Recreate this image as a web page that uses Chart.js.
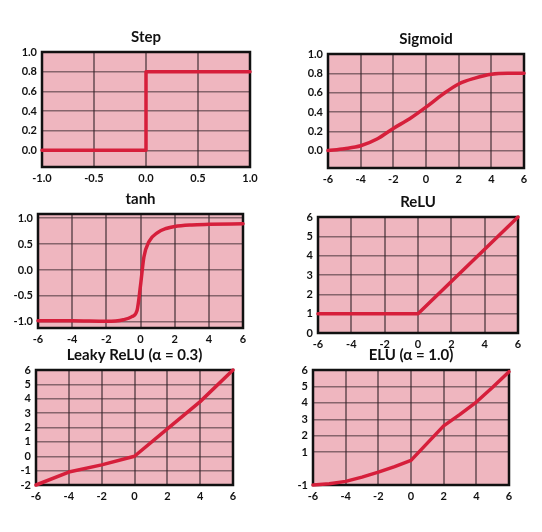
<!DOCTYPE html>
<html>
<head>
<meta charset="utf-8">
<script src="https://cdn.jsdelivr.net/npm/chart.js@4.4.1/dist/chart.umd.min.js"></script>
<style>
    html, body { margin: 0; padding: 0; background: #ffffff; }
    #wrap { position: relative; width: 542px; height: 532px; }
    #wrap canvas { position: absolute; left: 0; top: 0; }
</style>
</head>
<body>
<div id="wrap">
    <canvas id="stepChart" width="542" height="532"></canvas>
    <canvas id="sigmoidChart" width="542" height="532"></canvas>
    <canvas id="tanhChart" width="542" height="532"></canvas>
    <canvas id="reluChart" width="542" height="532"></canvas>
    <canvas id="leakyChart" width="542" height="532"></canvas>
    <canvas id="eluChart" width="542" height="532"></canvas>
</div>
<script>
// Values
const stepX = [-1, 0, 0, 1];
const stepY = [0, 0, 0.8, 0.8];
const stepXTicks = [-1, -0.5, 0, 0.5, 1];
const stepYTicks = [0, 0.2, 0.4, 0.6, 0.8, 1.0];

const sigmoidX = [-6, -5, -4, -3, -2, -1, 0, 1, 2, 3, 4, 5, 6];
const sigmoidY = [0.0, 0.02, 0.05, 0.12, 0.23, 0.33, 0.45, 0.58, 0.69, 0.75, 0.79, 0.8, 0.8];
const sigmoidXTicks = [-6, -4, -2, 0, 2, 4, 6];
const sigmoidYTicks = [0, 0.2, 0.4, 0.6, 0.8, 1.0];

const tanhX = [-6, -4, -2, -1, -0.5, -0.2, 0, 0.2, 0.5, 1, 1.5, 2, 3, 4, 6];
const tanhY = [-0.98, -0.98, -0.99, -0.96, -0.9, -0.78, -0.3, 0.25, 0.55, 0.72, 0.8, 0.84, 0.87, 0.88, 0.89];
const tanhXTicks = [-6, -4, -2, 0, 2, 4, 6];
const tanhYTicks = [-1, -0.5, 0, 0.5, 1];

const reluX = [-6, 0, 6];
const reluY = [1, 1, 6];
const reluXTicks = [-6, -4, -2, 0, 2, 4, 6];
const reluYTicks = [0, 1, 2, 3, 4, 5, 6];

const leakyX = [-6, -4, -2, 0, 2, 4, 6];
const leakyY = [-2, -1.1, -0.6, 0, 1.9, 3.8, 6];
const leakyXTicks = [-6, -4, -2, 0, 2, 4, 6];
const leakyYTicks = [-2, -1, 0, 1, 2, 3, 4, 5, 6];

const eluX = [-6, -5, -4, -3, -2, -1, 0, 1, 2, 3, 4, 5, 6];
const eluY = [-1, -0.93, -0.78, -0.52, -0.22, 0.12, 0.5, 1.55, 2.6, 3.3, 4.05, 4.95, 5.9];
const eluXTicks = [-6, -4, -2, 0, 2, 4, 6];
const eluYTicks = [-1, 1, 2, 3, 4, 5, 6];

const PANEL_BG = '#efb6bf';
const LINE_COLOR = '#d61f3b';
const GRID_COLOR = 'rgba(50, 35, 40, 0.55)';
const Y_AXIS_W = 34;
const X_AXIS_H = 20;
const TITLE_H = 24;

// Pink paper + black frame for each panel
const panelPlugin = {
    id: 'panel',
    beforeDraw(chart) {
        const a = chart.chartArea;
        const ctx = chart.ctx;
        ctx.save();
        ctx.fillStyle = PANEL_BG;
        ctx.fillRect(a.left, a.top, a.right - a.left, a.bottom - a.top);
        ctx.restore();
    },
    beforeDatasetsDraw(chart) {
        const a = chart.chartArea;
        const ctx = chart.ctx;
        ctx.save();
        ctx.strokeStyle = '#111111';
        ctx.lineWidth = 2.5;
        ctx.strokeRect(a.left, a.top, a.right - a.left, a.bottom - a.top);
        ctx.restore();
    }
};

function makePoints(xs, ys) {
    return xs.map((x, i) => ({ x: x, y: ys[i] }));
}

const fmtInt = v => String(v);
const fmtDec = v => Number(v).toFixed(1);

function makeChart(id, title, xs, ys, xTicks, yTicks, yMin, yMax, area, opts) {
    return new Chart(document.getElementById(id).getContext('2d'), {
        type: 'line',
        data: {
            datasets: [{
                label: title,
                data: makePoints(xs, ys),
                borderColor: LINE_COLOR,
                borderWidth: 3.5,
                pointRadius: 0,
                fill: false,
                tension: opts.smooth ? 0.4 : 0,
                cubicInterpolationMode: opts.smooth ? 'monotone' : 'default',
                borderCapStyle: 'round',
                borderJoinStyle: 'round',
                clip: false
            }]
        },
        options: {
            responsive: false,
            animation: false,
            layout: {
                padding: {
                    left: area[0] - Y_AXIS_W,
                    top: area[1] - TITLE_H,
                    right: 542 - area[2],
                    bottom: 532 - area[3] - X_AXIS_H
                }
            },
            plugins: {
                legend: { display: false },
                tooltip: { enabled: false },
                title: {
                    display: true,
                    text: title,
                    fullSize: false,
                    color: '#111111',
                    font: { family: 'Lato', size: 15, weight: 'bold' },
                    padding: { top: 0, bottom: 6 }
                }
            },
            scales: {
                x: {
                    type: 'linear',
                    min: xTicks[0],
                    max: xTicks[xTicks.length - 1],
                    afterBuildTicks: s => { s.ticks = xTicks.map(v => ({ value: v })); },
                    afterFit: s => { s.height = X_AXIS_H; },
                    border: { display: false },
                    grid: { color: GRID_COLOR, lineWidth: 2, drawTicks: false },
                    ticks: {
                        padding: 5,
                        maxRotation: 0,
                        autoSkip: false,
                        color: '#111111',
                        font: { family: 'Lato', size: 11, weight: 'bold' },
                        callback: opts.xDec ? fmtDec : fmtInt
                    }
                },
                y: {
                    type: 'linear',
                    min: yMin,
                    max: yMax,
                    afterBuildTicks: s => { s.ticks = yTicks.map(v => ({ value: v })); },
                    afterFit: s => { s.width = Y_AXIS_W; },
                    border: { display: false },
                    grid: { color: GRID_COLOR, lineWidth: 1.5, drawTicks: false },
                    ticks: {
                        padding: 5,
                        autoSkip: false,
                        color: '#111111',
                        font: { family: 'Lato', size: 11, weight: 'bold' },
                        callback: opts.yDec ? fmtDec : fmtInt
                    }
                }
            }
        },
        plugins: [panelPlugin]
    });
}

document.addEventListener('DOMContentLoaded', function() {
    makeChart('stepChart', 'Step', stepX, stepY, stepXTicks, stepYTicks, -0.17, 1.0,
        [42, 52, 250, 167], { xDec: true, yDec: true, smooth: false });
    makeChart('sigmoidChart', 'Sigmoid', sigmoidX, sigmoidY, sigmoidXTicks, sigmoidYTicks, -0.18, 1.0,
        [328, 54, 524, 168], { xDec: false, yDec: true, smooth: true });
    makeChart('tanhChart', 'tanh', tanhX, tanhY, tanhXTicks, tanhYTicks, -1.12, 1.08,
        [38, 214, 243, 328], { xDec: false, yDec: true, smooth: true });
    makeChart('reluChart', 'ReLU', reluX, reluY, reluXTicks, reluYTicks, 0, 6,
        [318, 217, 518, 333], { xDec: false, yDec: false, smooth: false });
    makeChart('leakyChart', 'Leaky ReLU (α = 0.3)', leakyX, leakyY, leakyXTicks, leakyYTicks, -2, 6,
        [36, 370, 233, 485], { xDec: false, yDec: false, smooth: false });
    makeChart('eluChart', 'ELU (α = 1.0)', eluX, eluY, eluXTicks, eluYTicks, -1, 6,
        [313, 370, 509, 485], { xDec: false, yDec: false, smooth: false });
});
</script>
</body>
</html>
